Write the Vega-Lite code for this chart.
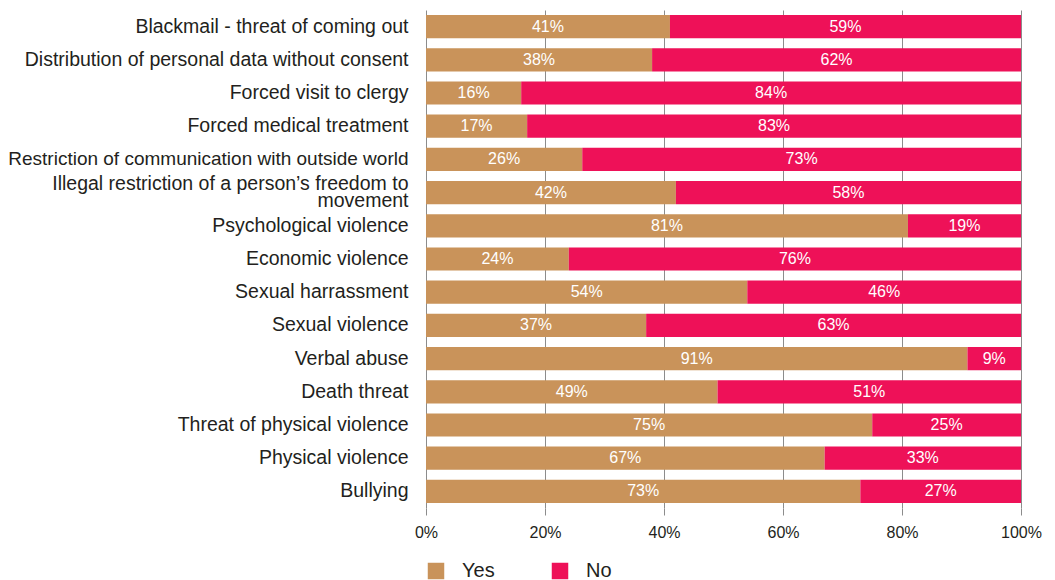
{
  "$schema": "https://vega.github.io/schema/vega-lite/v6.json",
  "width": 595,
  "height": 498,
  "autosize": {"type": "none"},
  "padding": {"left": 426, "top": 10, "right": 34, "bottom": 72},
  "background": "white",
  "config": {"font": "Liberation Sans", "view": {"stroke": null}},
  "data": {
    "values": [
      {"category": "Blackmail - threat of coming out", "answer": "Yes", "value": 0.41},
      {"category": "Blackmail - threat of coming out", "answer": "No", "value": 0.59},
      {"category": "Distribution of personal data without consent", "answer": "Yes", "value": 0.38},
      {"category": "Distribution of personal data without consent", "answer": "No", "value": 0.62},
      {"category": "Forced visit to clergy", "answer": "Yes", "value": 0.16},
      {"category": "Forced visit to clergy", "answer": "No", "value": 0.84},
      {"category": "Forced medical treatment", "answer": "Yes", "value": 0.17},
      {"category": "Forced medical treatment", "answer": "No", "value": 0.83},
      {"category": "Restriction of communication with outside world", "answer": "Yes", "value": 0.26},
      {"category": "Restriction of communication with outside world", "answer": "No", "value": 0.73},
      {"category": "Illegal restriction of a person’s freedom to movement", "answer": "Yes", "value": 0.42},
      {"category": "Illegal restriction of a person’s freedom to movement", "answer": "No", "value": 0.58},
      {"category": "Psychological violence", "answer": "Yes", "value": 0.81},
      {"category": "Psychological violence", "answer": "No", "value": 0.19},
      {"category": "Economic violence", "answer": "Yes", "value": 0.24},
      {"category": "Economic violence", "answer": "No", "value": 0.76},
      {"category": "Sexual harrassment", "answer": "Yes", "value": 0.54},
      {"category": "Sexual harrassment", "answer": "No", "value": 0.46},
      {"category": "Sexual violence", "answer": "Yes", "value": 0.37},
      {"category": "Sexual violence", "answer": "No", "value": 0.63},
      {"category": "Verbal abuse", "answer": "Yes", "value": 0.91},
      {"category": "Verbal abuse", "answer": "No", "value": 0.09},
      {"category": "Death threat", "answer": "Yes", "value": 0.49},
      {"category": "Death threat", "answer": "No", "value": 0.51},
      {"category": "Threat of physical violence", "answer": "Yes", "value": 0.75},
      {"category": "Threat of physical violence", "answer": "No", "value": 0.25},
      {"category": "Physical violence", "answer": "Yes", "value": 0.67},
      {"category": "Physical violence", "answer": "No", "value": 0.33},
      {"category": "Bullying", "answer": "Yes", "value": 0.73},
      {"category": "Bullying", "answer": "No", "value": 0.27}
    ]
  },
  "encoding": {
    "y": {
      "field": "category",
      "type": "nominal",
      "sort": null,
      "scale": {"paddingInner": 0.3, "paddingOuter": 0.15},
      "axis": {
        "title": null,
        "domain": false,
        "ticks": false,
        "grid": false,
        "labelFontSize": {
          "condition": {"test": "datum.value == 'Restriction of communication with outside world'", "value": 19},
          "value": 19.5
        },
        "labelOffset": {
          "condition": {"test": "datum.value == 'Illegal restriction of a person’s freedom to movement'", "value": -8.5},
          "value": 0
        },
        "labelColor": "#231f20",
        "labelPadding": 18,
        "labelLimit": 0,
        "labelLineHeight": 17,
        "labelExpr": "datum.label == 'Illegal restriction of a person’s freedom to movement' ? ['Illegal restriction of a person’s freedom to', 'movement'] : datum.label"
      }
    },
    "order": {"field": "answer", "sort": "descending"}
  },
  "layer": [
    {
      "mark": {"type": "bar"},
      "encoding": {
        "x": {
          "field": "value",
          "type": "quantitative",
          "stack": "normalize",
          "scale": {"domain": [0, 1], "nice": false},
          "axis": {
            "title": null,
            "values": [0, 0.2, 0.4, 0.6, 0.8, 1],
            "format": ".0%",
            "domain": false,
            "grid": true,
            "gridColor": "#8c8c8c",
            "gridWidth": 1,
            "ticks": true,
            "tickColor": "#8c8c8c",
            "tickSize": 7,
            "labelFontSize": 16,
            "labelColor": "#231f20",
            "labelPadding": 9,
            "labelFlush": false
          }
        },
        "color": {
          "field": "answer",
          "type": "nominal",
          "scale": {"domain": ["Yes", "No"], "range": ["#C9935A", "#EE1158"]},
          "legend": {
            "orient": "none",
            "legendX": 0,
            "legendY": 551,
            "direction": "horizontal",
            "title": null,
            "symbolType": "square",
            "symbolSize": 272,
            "symbolStrokeWidth": 0,
            "labelFontSize": 20,
            "labelColor": "#231f20",
            "labelOffset": 16,
            "columnPadding": 55,
            "padding": 0
          }
        }
      }
    },
    {
      "mark": {"type": "text", "color": "white", "fontSize": 16},
      "encoding": {
        "x": {
          "field": "value",
          "type": "quantitative",
          "stack": "normalize",
          "bandPosition": 0.5,
          "scale": {"domain": [0, 1], "nice": false},
          "axis": {
            "title": null,
            "values": [0, 0.2, 0.4, 0.6, 0.8, 1],
            "format": ".0%",
            "domain": false,
            "grid": true,
            "gridColor": "#8c8c8c",
            "gridWidth": 1,
            "ticks": true,
            "tickColor": "#8c8c8c",
            "tickSize": 7,
            "labelFontSize": 16,
            "labelColor": "#231f20",
            "labelPadding": 9,
            "labelFlush": false
          }
        },
        "detail": {"field": "answer"},
        "text": {"field": "value", "format": ".0%"}
      }
    }
  ]
}
